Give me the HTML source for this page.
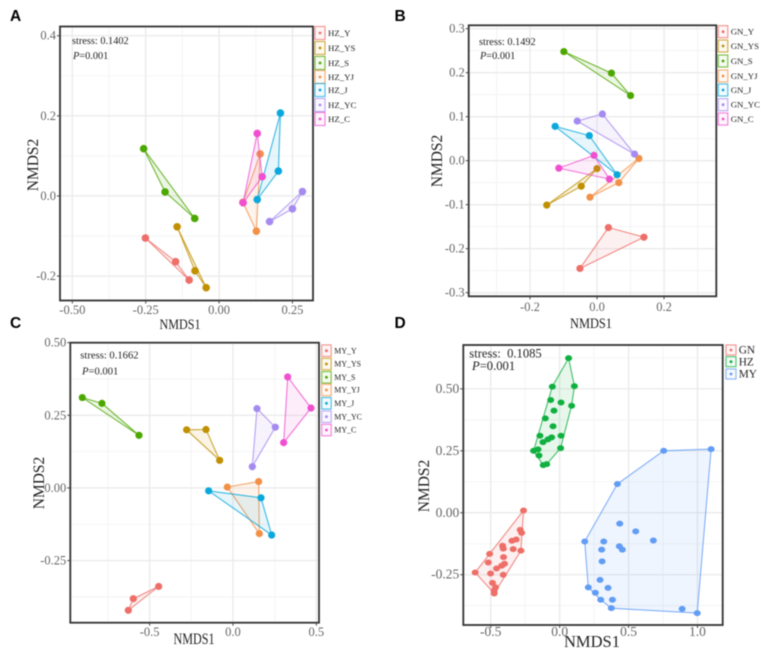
<!DOCTYPE html>
<html lang="en">
<head>
<meta charset="utf-8">
<title>NMDS ordination panels</title>
<style>
html,body{margin:0;padding:0;background:#fff;width:767px;height:657px;overflow:hidden}
svg{display:block;filter:blur(0.45px)}
text{font-family:"Liberation Serif",serif}
</style>
</head>
<body>
<svg id="figure" xmlns="http://www.w3.org/2000/svg" width="767" height="657" viewBox="0 0 767 657"></svg>
<script>
// Panel A data
const groupsA = ['HZ_Y','HZ_YS','HZ_S','HZ_YJ','HZ_J','HZ_YC','HZ_C'];
const a_Y  = [[-.251,-.105],[-.148,-.164],[-.102,-.210]];
const a_YS = [[-.143,-.077],[-.082,-.187],[-.044,-.229]];
const a_S  = [[-.257,.118],[-.184,.010],[-.083,-.056]];
const a_YJ = [[.140,.105],[.081,-.016],[.127,-.088]];
const a_J  = [[.209,.207],[.202,.062],[.130,-.009]];
const a_YC = [[.284,.011],[.250,-.032],[.172,-.064]];
const a_C  = [[.130,.156],[.147,.048],[.082,-.017]];
const seriesA = [a_Y,a_YS,a_S,a_YJ,a_J,a_YC,a_C];
const xTicksA = [-0.50,-0.25,0,0.25];
const yTicksA = [-0.2,0,0.2,0.4];
const xLabelsA = ['-0.50','-0.25','0.00','0.25'];
const yLabelsA = ['-0.2','0.0','0.2','0.4'];

// Panel B data
const groupsB = ['GN_Y','GN_YS','GN_S','GN_YJ','GN_J','GN_YC','GN_C'];
const b_Y  = [[.034,-.152],[.140,-.174],[-.051,-.245]];
const b_YS = [[0,-.018],[-.047,-.058],[-.150,-.101]];
const b_S  = [[-.099,.248],[.043,.199],[.100,.148]];
const b_YJ = [[.125,.005],[.065,-.050],[-.021,-.083]];
const b_J  = [[-.125,.078],[-.023,.057],[.060,-.032]];
const b_YC = [[-.059,.090],[.016,.106],[.112,.015]];
const b_C  = [[-.114,-.017],[-.009,.012],[.037,-.042]];
const seriesB = [b_Y,b_YS,b_S,b_YJ,b_J,b_YC,b_C];
const xTicksB = [-0.2,0,0.2];
const yTicksB = [-0.3,-0.2,-0.1,0,0.1,0.2,0.3];
const xLabelsB = ['-0.2','0.0','0.2'];
const yLabelsB = ['-0.3','-0.2','-0.1','0.0','0.1','0.2','0.3'];

// Panel C data
const groupsC = ['MY_Y','MY_YS','MY_S','MY_YJ','MY_J','MY_YC','MY_C'];
const c_Y  = [[-.446,-.339],[-.598,-.381],[-.628,-.421]];
const c_YS = [[-.278,.200],[-.162,.201],[-.080,.095]];
const c_S  = [[-.904,.311],[-.786,.291],[-.564,.181]];
const c_YJ = [[-.034,.003],[.154,.022],[.158,-.157]];
const c_J  = [[-.146,-.010],[.168,-.034],[.232,-.162]];
const c_YC = [[.144,.273],[.254,.209],[.116,.073]];
const c_C  = [[.328,.382],[.468,.275],[.304,.156]];
const seriesC = [c_Y,c_YS,c_S,c_YJ,c_J,c_YC,c_C];
const xTicksC = [-0.5,0,0.5];
const yTicksC = [-0.25,0,0.25,0.5];
const xLabelsC = ['-0.5','0.0','0.5'];
const yLabelsC = ['-0.25','0.00','0.25','0.50'];

// Panel D data
const groupsD = ['GN','HZ','MY'];
const d_GN = [[-.262,.009],[-.286,-.069],[-.276,-.081],[-.281,-.153],[-.346,-.113],[-.315,-.108],[-.414,-.133],[-.409,-.145],[-.337,-.147],[-.508,-.166],[-.407,-.179],[-.518,-.201],[-.400,-.206],[-.421,-.214],[-.458,-.225],[-.501,-.245],[-.409,-.250],[-.613,-.241],[-.487,-.283],[-.465,-.301],[-.475,-.315],[-.475,-.326]];
const d_HZ = [[.065,.624],[.107,.511],[-.053,.509],[.087,.432],[-.065,.455],[.010,.445],[-.041,.412],[-.104,.381],[-.048,.349],[-.143,.311],[.010,.311],[-.058,.304],[-.085,.296],[-.121,.285],[.007,.261],[-.157,.256],[-.189,.250],[-.150,.231],[-.094,.196],[-.119,.192]];
const d_MY = [[.755,.250],[1.099,.257],[.419,.116],[.436,-.044],[.552,-.075],[.680,-.112],[.182,-.116],[.320,-.116],[.433,-.135],[.455,-.149],[.305,-.149],[.308,-.196],[.293,-.271],[.208,-.301],[.351,-.303],[.259,-.323],[.298,-.351],[.383,-.351],[.375,-.385],[.889,-.388],[.998,-.405]];
const seriesD = [d_GN,d_HZ,d_MY];
const xTicksD = [-0.5,0,0.5,1.0];
const yTicksD = [-0.25,0,0.25,0.5];
const xLabelsD = ['-0.5','0.0','0.5','1.0'];
const yLabelsD = ['-0.25','0.00','0.25','0.50'];

const colors7 = ['#ee6e68','#c09000','#4ca800','#f29047','#0aa8dc','#a58af0','#f050d0'];
const colors3 = ['#ee6e68','#10b040','#619cf5'];

const panels = [
 {id:'a',letter:'A',lx:10,ly:21,groups:groupsA,series:seriesA,colors:colors7,xt:xTicksA,yt:yTicksA,xl:xLabelsA,yl:yLabelsA,
  f:[60,26.5,313,300.5],xd:[-.542,.32],yd:[-.261,.423],tickFont:12.5,xTickBase:314,
  xLab:[180,329,15,41],yLab:[38,165,15.5],stress:'stress: 0.1402',sx:72,sy:44,px:73,py:59,sf:10.3,
  legX:315,legW:10,legH:13,legY:[33,48,63,77,90,105,119],legT:328,legF:8.8,r:3.8,ry:3.8},
 {id:'b',letter:'B',lx:394.5,ly:21,groups:groupsB,series:seriesB,colors:colors7,xt:xTicksB,yt:yTicksB,xl:xLabelsB,yl:yLabelsB,
  f:[468.7,25.3,716.3,296.3],xd:[-.383,.356],yd:[-.3083,.3077],tickFont:12.5,xTickBase:311,
  xLab:[591,328,15,42],yLab:[442,161,15.5],stress:'stress: 0.1492',sx:479,sy:45,px:480,py:59,sf:10.3,
  legX:718.3,legW:9.5,legH:12,legY:[31.7,46,61,76,90,104.7,119],legT:730.7,legF:8.8,r:3.6,ry:3.6},
 {id:'c',letter:'C',lx:10,ly:328,groups:groupsC,series:seriesC,colors:colors7,xt:xTicksC,yt:yTicksC,xl:xLabelsC,yl:yLabelsC,
  f:[70.3,342.7,319,622.7],xd:[-.976,.516],yd:[-.4637,.4998],tickFont:12.5,xTickBase:636,
  xLab:[194,644,16,41],yLab:[44,483,15.5],stress:'stress: 0.1662',sx:80.3,sy:358.7,px:82,py:374.3,sf:10.6,
  legX:321.7,legW:9.5,legH:11.5,legY:[350.7,364,377.3,390,403.3,416.7,430],legT:334.3,legF:7.9,r:3.6,ry:3.6},
 {id:'d',letter:'D',lx:394.5,ly:328,groups:groupsD,series:seriesD,colors:colors3,xt:xTicksD,yt:yTicksD,xl:xLabelsD,yl:yLabelsD,
  f:[463.3,345,722.7,625],xd:[-.699,1.183],yd:[-.453,.677],tickFont:13.5,xTickBase:636,
  xLab:[592,647,16.5,56],yLab:[429,486,15.5],stress:'stress:  0.1085',sx:469.3,sy:357.3,px:472,py:370,sf:12.6,
  legX:726,legW:10,legH:10,legY:[350,361.7,374],legT:738.7,legF:11.3,r:3.5,ry:3}
];

const NS = 'http://www.w3.org/2000/svg';
const root = document.getElementById('figure');

function make(tag, attrs, parent){
  const el = document.createElementNS(NS, tag);
  for (const k in attrs) el.setAttribute(k, attrs[k]);
  parent.appendChild(el);
  return el;
}

function convexHull(points){
  const p = points.slice().sort((a,b)=>a[0]-b[0]||a[1]-b[1]);
  const cross=(o,a,b)=>(a[0]-o[0])*(b[1]-o[1])-(a[1]-o[1])*(b[0]-o[0]);
  const lower=[];
  for(const q of p){ while(lower.length>=2&&cross(lower[lower.length-2],lower[lower.length-1],q)<=0) lower.pop(); lower.push(q); }
  const upper=[];
  for(const q of p.slice().reverse()){ while(upper.length>=2&&cross(upper[upper.length-2],upper[upper.length-1],q)<=0) upper.pop(); upper.push(q); }
  lower.pop(); upper.pop();
  return lower.concat(upper);
}

function minorValues(ticks, dom){
  const step = ticks[1]-ticks[0];
  const out = [];
  for(let i=-6;i<ticks.length+6;i++){
    const v = ticks[0]+(i+0.5)*step;
    if(v>dom[0]&&v<dom[1]) out.push(v);
  }
  return out;
}

panels.forEach(function(P){
  const [L,T,R,B] = P.f;
  const xScale = v => L+(v-P.xd[0])/(P.xd[1]-P.xd[0])*(R-L);
  const yScale = v => B-(v-P.yd[0])/(P.yd[1]-P.yd[0])*(B-T);

  const g = make('g',{},root);
  
  

  const letter = make('text',{x:P.lx,y:P.ly,'font-size':15.5,'font-weight':'bold',fill:'#000',style:'font-family:"Liberation Sans",sans-serif'},g);
  
  
  letter.textContent = P.letter;

  const grid = make('g',{},g);
  
  
  minorValues(P.xt,P.xd).forEach(v=>make('line',{x1:xScale(v),x2:xScale(v),y1:T,y2:B,stroke:'#f1f1f1','stroke-width':.8},grid));
  minorValues(P.yt,P.yd).forEach(v=>make('line',{y1:yScale(v),y2:yScale(v),x1:L,x2:R,stroke:'#f1f1f1','stroke-width':.8},grid));
  P.xt.forEach(v=>make('line',{x1:xScale(v),x2:xScale(v),y1:T,y2:B,stroke:'#ebebeb','stroke-width':1.4},grid));
  P.yt.forEach(v=>make('line',{y1:yScale(v),y2:yScale(v),x1:L,x2:R,stroke:'#ebebeb','stroke-width':1.4},grid));

  P.series.forEach(function(pts,i){
    const col = P.colors[i];
    const sg = make('g',{},g);
    
    
    const hull = convexHull(pts).map(p=>xScale(p[0]).toFixed(1)+','+yScale(p[1]).toFixed(1)).join(' ');
    const poly = make('polygon',{points:hull,fill:col,'fill-opacity':.1,stroke:col,'stroke-opacity':.8,'stroke-width':1.1},sg);
    
    
    pts.forEach(function(p){
      const dot = make('ellipse',{cx:xScale(p[0]),cy:yScale(p[1]),rx:P.r,ry:P.ry,fill:col},sg);
      
      
    });
  });

  const frame = make('rect',{x:L,y:T,width:R-L,height:B-T,fill:'none',stroke:'#333','stroke-width':1.8},g);
  
  

  P.xt.forEach(function(v,i){
    make('line',{x1:xScale(v),x2:xScale(v),y1:B,y2:B+3,stroke:'#444','stroke-width':1},g);
    const t = make('text',{x:xScale(v),y:P.xTickBase,'text-anchor':'middle','font-size':P.tickFont,fill:'#666'},g);
    
    
    t.textContent = P.xl[i];
  });
  P.yt.forEach(function(v,i){
    make('line',{x1:L-3,x2:L,y1:yScale(v),y2:yScale(v),stroke:'#444','stroke-width':1},g);
    const t = make('text',{x:L-4,y:yScale(v)+4,'text-anchor':'end','font-size':P.tickFont,fill:'#666'},g);
    
    
    t.textContent = P.yl[i];
  });

  const xt = make('text',{x:P.xLab[0],y:P.xLab[1],'text-anchor':'middle','font-size':P.xLab[2],fill:'#222',textLength:P.xLab[3],lengthAdjust:'spacingAndGlyphs'},g);
  
  
  xt.textContent = 'NMDS1';

  const yt = make('text',{transform:'translate('+P.yLab[0]+','+P.yLab[1]+') rotate(-90)','text-anchor':'middle','font-size':P.yLab[2],fill:'#222'},g);
  
  
  yt.textContent = 'NMDS2';

  const st = make('text',{x:P.sx,y:P.sy,'font-size':P.sf,fill:'#222',style:'white-space:pre'},g);
  
  
  st.textContent = P.stress;

  const pv = make('text',{x:P.px,y:P.py,'font-size':P.sf,fill:'#222'},g);
  
  
  make('tspan',{'font-style':'italic'},pv).textContent = 'P';
  make('tspan',{},pv).textContent = '=0.001';

  P.groups.forEach(function(name,i){
    const col = P.colors[i];
    const cy = P.legY[i];
    const e = make('g',{},g);
    
    
    make('rect',{x:P.legX,y:cy-P.legH/2,width:P.legW,height:P.legH,fill:col,'fill-opacity':.06,stroke:col,'stroke-opacity':.75,'stroke-width':1.1},e);
    make('circle',{cx:P.legX+P.legW/2,cy:cy,r:1.4,fill:col},e);
    make('text',{x:P.legT,y:cy+P.legF*0.33,'font-size':P.legF,fill:'#222'},e).textContent = name;
  });
});
</script>
</body>
</html>
